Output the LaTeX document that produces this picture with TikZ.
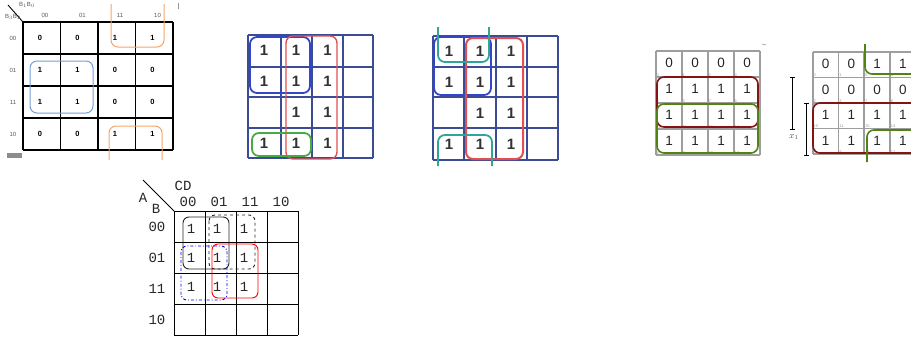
\documentclass[tikz,border=0pt]{standalone}
\usepackage{fontspec}
\setmainfont{Liberation Sans}
\newfontfamily\monofont{Liberation Mono}
\definecolor{kblue}{RGB}{60,75,150}
\definecolor{gblue}{RGB}{50,70,200}
\definecolor{gred}{RGB}{225,80,80}
\definecolor{ggreen}{RGB}{70,170,70}
\definecolor{gteal}{RGB}{50,165,150}
\definecolor{dred}{RGB}{130,20,20}
\definecolor{dgreen}{RGB}{80,130,20}
\definecolor{lblue}{RGB}{110,160,220}
\definecolor{orng}{RGB}{244,164,106}
\tikzset{
  gridA/.style={line width=1.5pt,black},
  gridB/.style={line width=1.6pt,kblue},
  gridC/.style={line width=1.1pt,black!38},
  gridD/.style={line width=0.9pt,black},
  valA/.style={font=\fontsize{7.5}{8}\selectfont\bfseries,inner sep=0pt},
  hdrA/.style={font=\fontsize{6}{6}\selectfont,text=black!65,inner sep=0pt},
  valB/.style={font=\fontsize{15}{15}\selectfont\bfseries,text=black!80,inner sep=0pt},
  valC/.style={font=\fontsize{13.5}{14}\selectfont,text=black!85,inner sep=0pt},
  idxC/.style={font=\fontsize{4}{4}\selectfont,text=black!40,inner sep=0.5pt,anchor=south west},
  valD/.style={font=\monofont\fontsize{14}{14}\selectfont,text=black!85,inner sep=0pt},
  loop/.style={rounded corners=7pt}
}
\begin{document}
\begin{tikzpicture}[x=1pt,y=-1pt]
\useasboundingbox (0,0) rectangle (911,338);
\clip (0,0) rectangle (911,338);

% ---------------- Map 1 ----------------
\foreach \x in {23,60.5,98,135.5,173} \draw[gridA] (\x,22)--(\x,150);
\foreach \y in {22,54,86,118,150} \draw[gridA] (23,\y)--(173,\y);
\foreach \v [count=\i from 0] in {0,0,1,1,1,1,0,0,1,1,0,0,0,0,1,1} {
  \pgfmathtruncatemacro\r{floor(\i/4)}
  \pgfmathtruncatemacro\c{mod(\i,4)}
  \node[valA] (ma\i) at ({23+37.5*\c+17},{22+32*\r+16}) {\v};
}
\foreach \t [count=\i from 0] in {00,01,11,10} {
  \node[hdrA] (mac\i) at ({45+37.5*\i},15) {\t};
  \node[hdrA] (mar\i) at (13,{38+32*\i}) {\t};
}
\draw[line width=0.9pt] (8,5)--(23,22);
\node[hdrA] (mab1) at (27,5) {B$_1$B$_0$};
\node[hdrA] (mab2) at (13,17) {B$_3$B$_2$};
\draw[lblue,line width=1pt,loop] (30,61) rectangle (93,113);
\draw[orng,line width=1pt,loop] (111,4)--(111,47)--(164,47)--(164,4);
\draw[orng,line width=1pt,loop] (109,160)--(109,126)--(162,126)--(162,160);
\fill[black!45] (7,153) rectangle (22,158);
\draw[black!40,line width=0.6pt] (178,3)--(178,9);

% ---------------- Map 2 ----------------
\foreach \x in {248,281,312,343,373} \draw[gridB] (\x,35)--(\x,158);
\foreach \y in {35,67,97,128,158} \draw[gridB] (248,\y)--(373,\y);
\foreach \v [count=\i from 0] in {1,1,1,0,1,1,1,0,0,1,1,0,1,1,1,0} {
  \pgfmathtruncatemacro\r{floor(\i/4)}
  \pgfmathtruncatemacro\c{mod(\i,4)}
  \ifnum\v=1
    \node[valB] (mb\i) at ({{264,296,327.5,358}[\c]},{{50,81,112,143}[\r]}) {1};
  \fi
}
\draw[gblue,line width=1.8pt,loop] (250,37) rectangle (310,93);
\draw[gred,line width=1.4pt,loop] (286,36) rectangle (337,159);
\draw[ggreen,line width=1.8pt,loop] (252,133) rectangle (311,156);

% ---------------- Map 3 ----------------
\foreach \x in {433,464,496,527,558} \draw[gridB] (\x,36)--(\x,160);
\foreach \y in {36,67,97,128,160} \draw[gridB] (433,\y)--(558,\y);
\foreach \v [count=\i from 0] in {1,1,1,0,1,1,1,0,0,1,1,0,1,1,1,0} {
  \pgfmathtruncatemacro\r{floor(\i/4)}
  \pgfmathtruncatemacro\c{mod(\i,4)}
  \ifnum\v=1
    \node[valB] (mc\i) at ({{449,480,511,542}[\c]},{{51,82,113,144}[\r]}) {1};
  \fi
}
\draw[gblue,line width=1.8pt,loop] (434,37) rectangle (491,95);
\draw[gred,line width=2pt,loop] (466,38) rectangle (523,159);
\draw[gteal,line width=1.8pt,loop] (438,27)--(438,62)--(489,62)--(489,27);
\draw[gteal,line width=1.8pt,loop] (438,166)--(438,135)--(492,135)--(492,166);

% ---------------- Map 4 ----------------
\foreach \x in {656,682,708,734,760} \draw[gridC] (\x,51)--(\x,155);
\foreach \y in {51,77,103,129,155} \draw[gridC] (656,\y)--(760,\y);
\foreach \v/\n [count=\i from 0] in {0/0,0/1,0/5,0/4,1/2,1/3,1/7,1/6,1/10,1/11,1/15,1/14,1/8,1/9,1/13,1/12} {
  \pgfmathtruncatemacro\r{floor(\i/4)}
  \pgfmathtruncatemacro\c{mod(\i,4)}
  \node[valC] (md\i) at ({656+26*\c+13},{51+26*\r+12}) {\v};
  \node[idxC] (mdi\i) at ({656+26*\c},{51+26*\r+26}) {\n};
}
\draw[dred,line width=1.6pt,loop] (657,77) rectangle (758,127);
\draw[dgreen,line width=1.6pt,loop] (657,104) rectangle (758,153);
\draw[black!45,line width=0.6pt] (762,44)--(766,45);

% ---------------- Map 5 ----------------
\foreach \x in {813,838.5,864,890,916} \draw[gridC] (\x,52)--(\x,154);
\foreach \y in {52,77.5,103,128.5,154} \draw[gridC] (813,\y)--(916,\y);
\foreach \v/\n [count=\i from 0] in {0/0,0/1,1/5,1/4,0/2,0/3,0/7,0/6,1/10,1/11,1/15,1/14,1/8,1/9,1/13,1/12} {
  \pgfmathtruncatemacro\r{floor(\i/4)}
  \pgfmathtruncatemacro\c{mod(\i,4)}
  \node[valC] (me\i) at ({813+25.75*\c+12.5},{52+25.5*\r+12}) {\v};
  \node[idxC] (mei\i) at ({813+25.75*\c},{52+25.5*\r+25.5}) {\n};
}
\draw[dred,line width=1.6pt,loop] (813,103) rectangle (926,153);
\draw[dgreen,line width=1.6pt,loop] (865,44)--(865,74)--(926,74)--(926,44);
\draw[dgreen,line width=1.6pt,loop] (867,162)--(867,130)--(926,130)--(926,162);
\draw[line width=0.8pt] (792,77)--(792,129) (789.5,77)--(794.5,77) (789.5,129)--(794.5,129);
\draw[line width=0.8pt] (806,103)--(806,155) (803.5,103)--(808.5,103) (803.5,155)--(808.5,155);
\node[font=\fontsize{9}{9}\selectfont,text=black!70,inner sep=0pt] (x1) at (794,137) {$x_1$};

% ---------------- Map 6 ----------------
\foreach \x in {174,205,236,267,298} \draw[gridD] (\x,211)--(\x,335);
\foreach \y in {211,242,273,304,335} \draw[gridD] (174,\y)--(298,\y);
\foreach \t [count=\i from 0] in {00,01,11,10} {
  \node[valD] (mfc\i) at ({188+31*\i},202) {\t};
  \node[valD] (mfr\i) at (157,{227+31*\i}) {\t};
}
\draw[line width=0.9pt] (143,180)--(174,211);
\node[valD] (mcd) at (183,186) {CD};
\node[valD] (mA) at (143,198) {A};
\node[valD] (mB) at (156,209) {B};
\foreach \v [count=\i from 0] in {1,1,1,0,1,1,1,0,1,1,1,0} {
  \pgfmathtruncatemacro\r{floor(\i/4)}
  \pgfmathtruncatemacro\c{mod(\i,4)}
  \ifnum\v=1
    \node[valD] (mf\i) at ({{191,217,244,280}[\c]},{{229,258,287,318}[\r]}) {1};
  \fi
}
\draw[black!85,line width=0.9pt,rounded corners=6pt] (183,217) rectangle (229,269);
\draw[black!85,line width=0.9pt,dashed,rounded corners=6pt] (209,215) rectangle (255,269);
\draw[blue,line width=0.9pt,dash dot,rounded corners=6pt] (181,246) rectangle (227,300);
\draw[red,line width=0.9pt,rounded corners=6pt] (212,244) rectangle (258,298);
\end{tikzpicture}
\end{document}
